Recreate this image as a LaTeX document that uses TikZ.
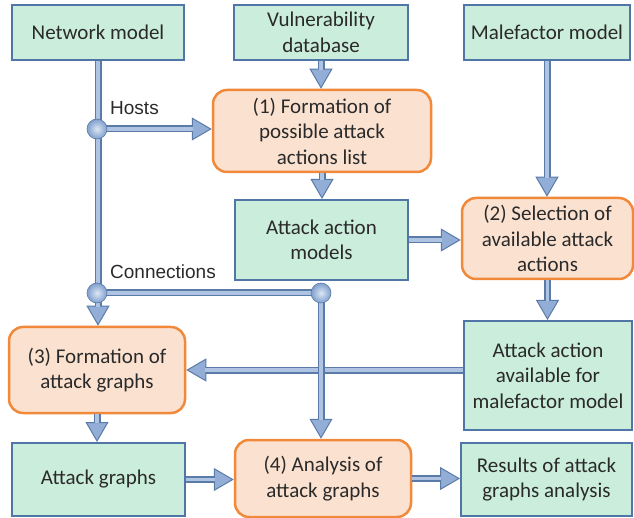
\documentclass[tikz,border=0pt]{standalone}
\usepackage{fontspec}
\setmainfont{Carlito}
\newfontfamily\labelfont{Liberation Sans}
\usetikzlibrary{arrows.meta}

\definecolor{greenfill}{HTML}{CBEEDC}
\definecolor{boxedge}{HTML}{4F76A6}
\definecolor{procfill}{HTML}{FBE2D0}
\definecolor{procedge}{HTML}{F0893A}
\definecolor{textcol}{HTML}{2A2A2A}
\definecolor{pipedark}{HTML}{5A7BA8}
\definecolor{pipelight}{HTML}{AEC4E2}
\definecolor{pipehead}{HTML}{93AED6}
\definecolor{ballinner}{HTML}{DCE7F5}
\definecolor{ballouter}{HTML}{7F9FCB}

\begin{document}
\begin{tikzpicture}[x=1pt,y=-1pt,
  font=\fontsize{21}{25.5}\selectfont,
  databox/.style={draw=boxedge, line width=2pt, fill=greenfill, align=center,
    inner sep=0pt, text=textcol},
  procbox/.style={draw=procedge, line width=2.5pt, fill=procfill, align=center,
    rounded corners=14pt, inner sep=0pt, text=textcol},
  pipe/.style={draw=pipedark, line width=7pt,
    -{Triangle[width=23pt,length=20pt,line width=1pt,fill=pipehead,color=pipedark]},
    postaction={draw=pipelight, line width=3.6pt, -, shorten >=19pt}},
  pipeplain/.style={draw=pipedark, line width=7pt,
    postaction={draw=pipelight, line width=3.6pt}},
  joint/.style={circle, draw=pipedark, line width=0.6pt, minimum size=20pt,
    inner sep=0pt, inner color=ballinner, outer color=ballouter},
  pipelabel/.style={anchor=west, inner sep=0pt, text=textcol,
    font=\labelfont\fontsize{19}{22}\selectfont}]

\useasboundingbox (0,0) rectangle (634,518);

% inputs
\node[databox, minimum width=172pt, minimum height=55pt] (net) at (98,32.5) {Network model};
\node[databox, minimum width=174pt, minimum height=55pt] (vul) at (321,32.5) {Vulnerability\\database};
\node[databox, minimum width=166pt, minimum height=55pt] (mal) at (547,32.5) {Malefactor model};

% processing steps and intermediate data
\node[procbox, minimum width=218pt, minimum height=82pt] (f1) at (322,131) {(1) Formation of\\possible attack\\actions list};
\node[databox, minimum width=173pt, minimum height=80pt] (aam) at (321.5,240) {Attack action\\models};
\node[procbox, minimum width=171pt, minimum height=81pt] (f2) at (547.5,238.5) {(2) Selection of\\available attack\\actions};
\node[procbox, minimum width=176pt, minimum height=86pt] (f3) at (97,370) {(3) Formation of\\attack graphs};
\node[databox, minimum width=168pt, minimum height=109pt] (aaa) at (548,375.5) {Attack action\\available for\\malefactor model};
\node[databox, minimum width=173pt, minimum height=73pt] (ag) at (98.5,479.5) {Attack graphs};
\node[procbox, minimum width=176pt, minimum height=77pt] (f4) at (323,478.5) {(4) Analysis of\\attack graphs};
\node[databox, minimum width=171pt, minimum height=73pt] (res) at (546.5,479.5) {Results of attack\\graphs analysis};

% junction points on the network bus
\coordinate (hj) at (97,129);
\coordinate (cj1) at (97,293);
\coordinate (cj2) at (321,293);

% connectors
\draw[pipe] (net.south) -- (net.south |- f3.north);
\draw[pipe] (hj) -- (hj -| f1.west);
\draw[pipeplain] (cj1) -- (cj2);
\draw[pipe] (vul.south) -- (vul.south |- f1.north);
\draw[pipe] (f1.south) -- (f1.south |- aam.north);
\draw[pipe] (mal.south) -- (mal.south |- f2.north);
\draw[pipe] (aam.east) -- (aam.east -| f2.west);
\draw[pipe] (f2.south) -- (f2.south |- aaa.north);
\draw[pipe] (aaa.west |- f3.east) -- (f3.east);
\draw[pipe] (cj2) -- (cj2 |- f4.north);
\draw[pipe] (f3.south) -- (f3.south |- ag.north);
\draw[pipe] (ag.east) -- (ag.east -| f4.west);
\draw[pipe] (f4.east) -- (f4.east -| res.west);

% junction balls
\node[joint] (hostsjoint) at (hj) {};
\node[joint] (connjoint1) at (cj1) {};
\node[joint] (connjoint2) at (cj2) {};

% labels
\node[pipelabel] (hostslabel) at (110,108) {Hosts};
\node[pipelabel] (connlabel) at (110,272) {Connections};
\end{tikzpicture}
\end{document}
